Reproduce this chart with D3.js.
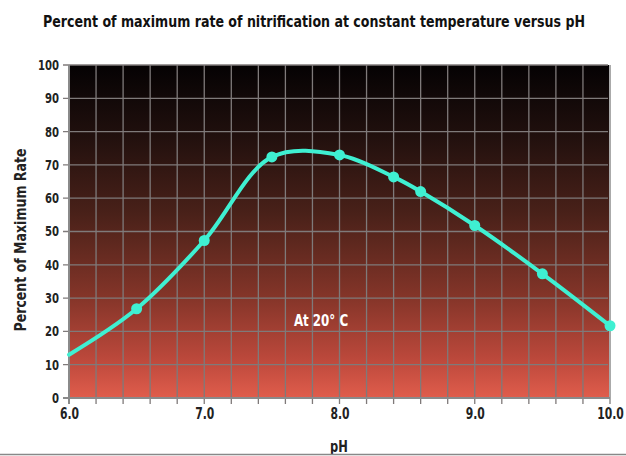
<!DOCTYPE html>
<html>
<head>
<meta charset="utf-8">
<script src="https://cdn.jsdelivr.net/npm/d3@7"></script>
<style>
  html, body { margin: 0; padding: 0; background: #fff; }
  svg { display: block; }
  text { font-family: "Liberation Sans Narrow", "DejaVu Sans Condensed", "DejaVu Sans", sans-serif; font-weight: bold; }
</style>
</head>
<body>
<svg id="chart" width="626" height="456"></svg>
<script>
// Nitrification rate (% of maximum) at 20 °C against pH
const pH       = [6.0, 6.5, 7.0, 7.5, 8.0, 8.4, 8.6, 9.0, 9.5, 10.0];
const rate     = [13, 26.8, 47.3, 72.4, 73.0, 66.4, 62.0, 51.8, 37.3, 21.7];
const measured = [false, true, true, true, true, true, true, true, true, true];

const xTicks = [6.0, 7.0, 8.0, 9.0, 10.0];
const yTicks = [0, 10, 20, 30, 40, 50, 60, 70, 80, 90, 100];

const svg = d3.select("#chart");
const m = { left: 69, right: 610, top: 65, bottom: 398 };

const x = d3.scaleLinear().domain([6, 10]).range([m.left, m.right]);
const y = d3.scaleLinear().domain([0, 100]).range([m.bottom, m.top]);

// Narrow, tall lettering: squeeze text horizontally
const squeeze = 0.8;

// Background gradient, dark at the top to red at the bottom
const defs = svg.append("defs");
const grad = defs.append("linearGradient")
  .attr("id", "bg").attr("x1", 0).attr("y1", 0).attr("x2", 0).attr("y2", 1);
[["0%", "#050203"], ["20%", "#1f0f0d"], ["45%", "#4a2119"], ["70%", "#853529"], ["88%", "#bb483b"], ["100%", "#e05d4c"]]
  .forEach(([o, c]) => grad.append("stop").attr("offset", o).attr("stop-color", c));

svg.append("rect")
  .attr("x", m.left).attr("y", m.top)
  .attr("width", m.right - m.left).attr("height", m.bottom - m.top)
  .attr("fill", "url(#bg)");

// Grid: every 0.2 pH and every 10 %
const gridColor = "#7f7a7a";
const vGrid = d3.range(6.2, 10.0, 0.2);
svg.append("g").selectAll("line").data(vGrid).join("line")
  .attr("x1", d => x(d)).attr("x2", d => x(d))
  .attr("y1", m.top).attr("y2", m.bottom + 6)
  .attr("stroke", gridColor).attr("stroke-width", 1.3);
svg.append("g").selectAll("line").data(yTicks.slice(1)).join("line")
  .attr("x1", m.left - 6).attr("x2", m.right - 2)
  .attr("y1", d => y(d)).attr("y2", d => y(d))
  .attr("stroke", gridColor).attr("stroke-width", 1.3);

// Frame
svg.append("line").attr("x1", m.right).attr("x2", m.right).attr("y1", m.top).attr("y2", m.bottom + 6)
  .attr("stroke", "#aaa").attr("stroke-width", 2);
svg.append("line").attr("x1", m.left).attr("x2", m.left).attr("y1", m.top).attr("y2", m.bottom + 6)
  .attr("stroke", "#8a8a8a").attr("stroke-width", 2);
svg.append("line").attr("x1", m.left - 6).attr("x2", m.right).attr("y1", m.bottom).attr("y2", m.bottom)
  .attr("stroke", "#8a8a8a").attr("stroke-width", 2);

// Axes (labels only; lines drawn above)
const yAxis = svg.append("g").attr("transform", `translate(${m.left - 10},0)`)
  .call(d3.axisLeft(y).tickValues(yTicks).tickSize(0).tickPadding(0));
yAxis.select(".domain").remove();
yAxis.selectAll("text").attr("font-size", 14).attr("fill", "#222")
  .attr("transform", `scale(${squeeze},1)`);

const xAxis = svg.append("g").attr("transform", `translate(0,${m.bottom})`)
  .call(d3.axisBottom(x).tickValues(xTicks).tickFormat(d3.format(".1f")).tickSize(0).tickPadding(10));
xAxis.select(".domain").remove();
xAxis.selectAll("text").attr("font-size", 15).attr("fill", "#222")
  .attr("transform", `scale(${squeeze},1)`);

// Curve through the readings
const pts = pH.map((p, i) => ({ p, r: rate[i], m: measured[i] }));
svg.append("path")
  .datum(pts)
  .attr("d", d3.line().x(d => x(d.p)).y(d => y(d.r)).curve(d3.curveCatmullRom.alpha(0.5)))
  .attr("fill", "none").attr("stroke", "#3ff0d2").attr("stroke-width", 4)
  .attr("stroke-linecap", "round");

svg.append("g").selectAll("circle").data(pts.filter(d => d.m)).join("circle")
  .attr("cx", d => x(d.p)).attr("cy", d => y(d.r)).attr("r", 5.5)
  .attr("fill", "#3ff0d2");

// Labels
function label(cx, cy, size, color, txt, rot, sx) {
  svg.append("text")
    .attr("transform", `translate(${cx},${cy})${rot ? ` rotate(${rot})` : ""} scale(${sx},1)`)
    .attr("text-anchor", "middle").attr("font-size", size).attr("fill", color).text(txt);
}
label(321, 326, 15, "#fff", "At 20° C", 0, 0.88);
label(314, 27, 16.5, "#111", "Percent of maximum rate of nitrification at constant temperature versus pH", 0, 0.85);
label(26, 240, 15.5, "#222", "Percent of Maximum Rate", -90, 0.9);
label(339, 452, 15, "#222", "pH", 0, 0.85);

// Rule along the bottom edge
svg.append("line").attr("x1", 0).attr("x2", 626).attr("y1", 454.5).attr("y2", 454.5)
  .attr("stroke", "#888").attr("stroke-width", 1.5);
</script>
</body>
</html>
